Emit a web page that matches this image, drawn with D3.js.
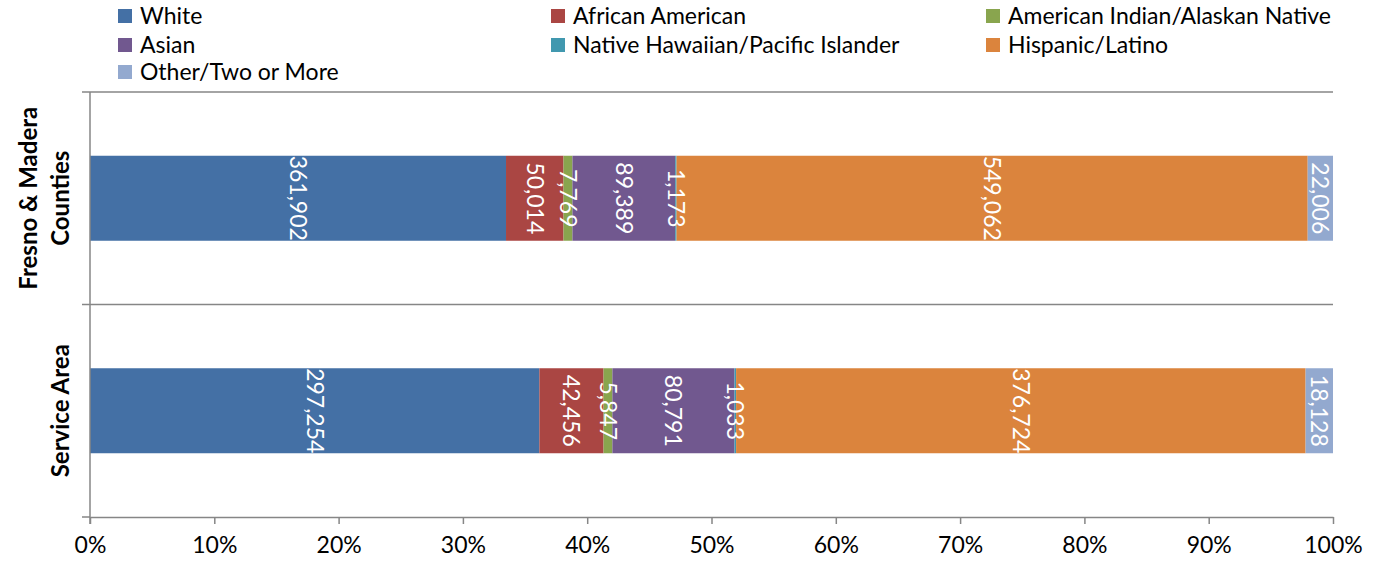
<!DOCTYPE html>
<html>
<head>
<meta charset="utf-8">
<script src="https://cdn.jsdelivr.net/npm/d3@7"></script>
<style>
  body { margin: 0; background: #fff; }
  svg { display: block; font-family: Lato, "Open Sans", sans-serif; }
</style>
</head>
<body>
<svg width="1378" height="567"></svg>
<script>
var categories = ["Fresno & Madera Counties", "Service Area"];
var categoryLines = [["Fresno & Madera", "Counties"], ["Service Area"]];
var seriesNames = ["White", "African American", "American Indian/Alaskan Native", "Asian",
  "Native Hawaiian/Pacific Islander", "Hispanic/Latino", "Other/Two or More"];
var seriesColors = ["#4470a5", "#aa4643", "#89a54e", "#71588f", "#4198af", "#db843d", "#93a9cf"];
var fresnoValues = [361902, 50014, 7769, 89389, 1173, 549062, 22006];
var serviceValues = [297254, 42456, 5847, 80791, 1033, 376724, 18128];
var tickLabels = [0, 0.1, 0.2, 0.3, 0.4, 0.5, 0.6, 0.7, 0.8, 0.9, 1];

var svg = d3.select("svg"),
    margin = {top: 92, right: 45, bottom: 50, left: 90},
    width = +svg.attr("width") - margin.left - margin.right,
    height = +svg.attr("height") - margin.top - margin.bottom,
    g = svg.append("g").attr("transform", "translate(" + margin.left + "," + margin.top + ")");

var rows = [fresnoValues, serviceValues].map(function(vals, i) {
  var row = {category: categories[i]};
  var total = d3.sum(vals);
  seriesNames.forEach(function(s, j) { row[s] = vals[j]; row[s + "_pct"] = vals[j] / total; });
  return row;
});

var stack = d3.stack()
    .keys(seriesNames)
    .value(function(d, key) { return d[key + "_pct"]; });
var layers = stack(rows);

var x = d3.scaleLinear().domain([0, 1]).range([0, width]);
var y = d3.scaleBand().domain(categories).range([0, height]).paddingInner(0.6).paddingOuter(0.3);

var axisColor = "#868686";

// category boundaries: gridlines with left tick
var bounds = [0, height / 2];
g.selectAll(".cat-grid").data(bounds).enter().append("line")
  .attr("x1", -8).attr("x2", width)
  .attr("y1", function(d) { return d; }).attr("y2", function(d) { return d; })
  .attr("stroke", axisColor).attr("stroke-width", 1.5);
g.append("line").attr("x1", -8).attr("x2", 0).attr("y1", height).attr("y2", height)
  .attr("stroke", axisColor).attr("stroke-width", 1.5);

var layer = g.selectAll(".layer")
  .data(layers)
  .enter().append("g")
    .attr("class", "layer")
    .attr("fill", function(d, i) { return seriesColors[i]; });

layer.selectAll("rect")
  .data(function(d) { return d; })
  .enter().append("rect")
    .attr("x", function(d) { return x(d[0]); })
    .attr("y", function(d) { return y(d.data.category); })
    .attr("width", function(d) { return x(d[1]) - x(d[0]); })
    .attr("height", y.bandwidth());

// value labels, rotated
layers.forEach(function(L) {
  g.selectAll(null)
    .data(L)
    .enter().append("text")
      .attr("transform", function(d) {
        var cx = (x(d[0]) + x(d[1])) / 2, cy = y(d.data.category) + y.bandwidth() / 2;
        return "translate(" + cx + "," + cy + ") rotate(90)";
      })
      .attr("text-anchor", "middle")
      .attr("dy", "0.35em")
      .attr("fill", "#fff")
      .attr("font-size", 23)
      .text(function(d) { return d3.format(",")(d.data[L.key]); });
});

// vertical axis
g.append("line").attr("x1", 0).attr("x2", 0).attr("y1", 0).attr("y2", height + 7)
  .attr("stroke", axisColor).attr("stroke-width", 1.5);

// x axis
var xAxis = g.append("g")
    .attr("transform", "translate(0," + height + ")")
    .call(d3.axisBottom(x).tickValues(tickLabels).tickFormat(d3.format(".0%")).tickSize(7).tickSizeOuter(0));
xAxis.select(".domain").attr("stroke", axisColor).attr("stroke-width", 1.5);
xAxis.selectAll(".tick line").attr("stroke", axisColor).attr("stroke-width", 1.5);
xAxis.selectAll(".tick text").attr("font-size", 23).attr("fill", "#000")
  .attr("font-family", "Lato, 'Open Sans', sans-serif").attr("dy", "1.15em");

// category labels
categoryLines.forEach(function(lines, i) {
  var cy = y(categories[i]) + y.bandwidth() / 2;
  var t = svg.append("text")
    .attr("transform", "translate(" + (margin.left - 21 - (lines.length - 1) * 32) + "," + (margin.top + cy) + ") rotate(-90)")
    .attr("text-anchor", "middle")
    .attr("font-weight", "bold")
    .attr("font-size", 24)
    .attr("fill", "#000");
  lines.forEach(function(line, k) {
    t.append("tspan").attr("x", 0).attr("dy", k === 0 ? 0 : 32).text(line);
  });
});

// legend
var legendX = [118, 551, 986], legendY = [16, 45, 72];
var legend = svg.selectAll(".legend")
  .data(seriesNames)
  .enter().append("g")
    .attr("transform", function(d, i) {
      return "translate(" + legendX[i % 3] + "," + legendY[Math.floor(i / 3)] + ")";
    });
legend.append("rect").attr("x", 0).attr("y", -7).attr("width", 14).attr("height", 14)
  .attr("fill", function(d, i) { return seriesColors[i]; });
legend.append("text").attr("x", 22).attr("dy", "0.35em").attr("font-size", 23).attr("fill", "#000")
  .text(function(d) { return d; });
</script>
</body>
</html>
